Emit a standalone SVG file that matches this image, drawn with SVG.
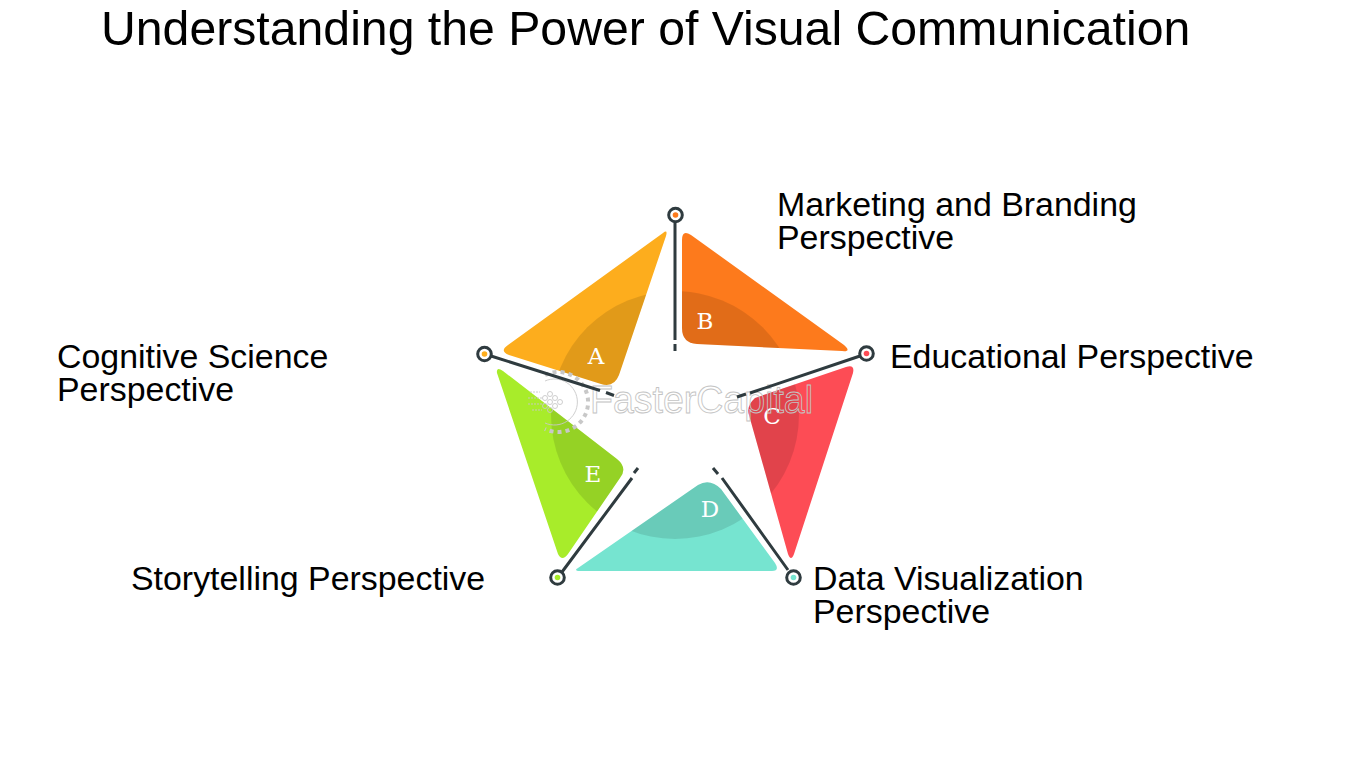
<svg xmlns="http://www.w3.org/2000/svg" width="1350" height="759" viewBox="0 0 1350 759">
<style>
.t{font-family:"Liberation Sans",Arial,sans-serif;font-size:33.9px;fill:#000}
.title{font-family:"Liberation Sans",Arial,sans-serif;font-size:48.2px;fill:#000}
.l{font-family:"DejaVu Serif",serif;font-size:23px;fill:#fff;text-anchor:middle}
.c{stroke:#2f3b3f;stroke-width:3;fill:none}
.r{fill:#fff;stroke:#2f3b3f;stroke-width:3}
.dark{fill:#000;opacity:.11}
.wm{font-family:"Liberation Sans",Arial,sans-serif;font-size:39px;fill:none;stroke:#c4c4c4;stroke-width:.9}
</style>
<defs>
<clipPath id="cA"><path id="pA" d="M663 233Q668 229 666 236L619 375Q614 388 601 384L509 355Q499 351 508 345Z"/></clipPath>
<clipPath id="cB"><path id="pB" d="M682 240Q682 229 691 235L844 345Q852 352 842 351L697 344Q682 343 682 328Z"/></clipPath>
<clipPath id="cC"><path id="pC" d="M846 367Q855 364 853 373L794 554Q791 562 788 554L749 415Q746 406 755 398Z"/></clipPath>
<clipPath id="cD"><path id="pD" d="M698 485Q710 478 721 489L775 563Q780 571 772 571L578 571Q574 570 578 568Z"/></clipPath>
<clipPath id="cE"><path id="pE" d="M497 373Q496 366 503 371L617 459Q628 468 620 478L568 554Q562 562 558 554Z"/></clipPath>
</defs>
<rect width="1350" height="759" fill="#fff"/>
<text class="title" x="101" y="45">Understanding the Power of Visual Communication</text>
<g id="node-a"><use href="#pA" fill="#fdad1d"/><circle cx="675" cy="415" r="124" class="dark" clip-path="url(#cA)"/><text class="l" x="596" y="364">A</text></g>
<g id="node-b"><use href="#pB" fill="#fd7a1c"/><circle cx="675" cy="415" r="124" class="dark" clip-path="url(#cB)"/><text class="l" x="705" y="329">B</text></g>
<g id="node-c"><use href="#pC" fill="#fd4c55"/><circle cx="675" cy="415" r="124" class="dark" clip-path="url(#cC)"/><text class="l" x="772" y="424">C</text></g>
<g id="node-d"><use href="#pD" fill="#76e4d0"/><circle cx="675" cy="415" r="124" class="dark" clip-path="url(#cD)"/><text class="l" x="710" y="517">D</text></g>
<g id="node-e"><use href="#pE" fill="#a8ec2a"/><circle cx="675" cy="415" r="124" class="dark" clip-path="url(#cE)"/><text class="l" x="593" y="482">E</text></g>
<g id="watermark" fill="none" stroke="#c8c8c8" stroke-width=".9">
<path d="M545 381A23 23 0 1 1 545 423"/>
<path d="M545 375A30 30 0 1 1 545 429" stroke-width="4" stroke-dasharray="4 4"/>
<path d="M528 398h14M528 404h16M530 392h10M532 410h10" stroke-dasharray="2 1"/>
<circle cx="550" cy="402" r="2.500"/><circle cx="545" cy="398" r="2.500"/><circle cx="545" cy="406" r="2.500"/><circle cx="550" cy="394" r="2.500"/><circle cx="550" cy="410" r="2.500"/><circle cx="555" cy="398" r="2.500"/><circle cx="555" cy="406" r="2.500"/><circle cx="560" cy="402" r="2.500"/>
<text class="wm" x="590" y="413" textLength="223" lengthAdjust="spacingAndGlyphs">FasterCapital</text>
</g>
<g id="connectors">
<path class="c" d="M491 356L600 390.500M606 392.500L614 395.500"/>
<path class="c" d="M675 222V340M675 344V351"/>
<path class="c" d="M860 356L750 393M746 394L737 397"/>
<path class="c" d="M788 570L722 478M718 474L713 468"/>
<path class="c" d="M562 572L632 478M634 473L638 468"/>
</g>
<g id="dot-a"><circle class="r" cx="484.500" cy="354" r="6.800"/><circle cx="484.500" cy="354" r="2.800" fill="#fdad1d"/></g>
<g id="dot-b"><circle class="r" cx="675.500" cy="215" r="6.800"/><circle cx="675.500" cy="215" r="2.800" fill="#fd7a1c"/></g>
<g id="dot-c"><circle class="r" cx="866.500" cy="353.500" r="6.800"/><circle cx="866.500" cy="353.500" r="2.800" fill="#fd4c55"/></g>
<g id="dot-d"><circle class="r" cx="793.500" cy="577.500" r="6.800"/><circle cx="793.500" cy="577.500" r="2.800" fill="#76e4d0"/></g>
<g id="dot-e"><circle class="r" cx="557.500" cy="577.500" r="6.800"/><circle cx="557.500" cy="577.500" r="2.800" fill="#a8ec2a"/></g>
<g id="label-marketing"><text class="t" x="777" y="216">Marketing and Branding</text><text class="t" x="777" y="249">Perspective</text></g>
<g id="label-educational"><text class="t" x="890" y="368">Educational Perspective</text></g>
<g id="label-data"><text class="t" x="813" y="590">Data Visualization</text><text class="t" x="813" y="623">Perspective</text></g>
<g id="label-storytelling"><text class="t" x="131" y="590">Storytelling Perspective</text></g>
<g id="label-cognitive"><text class="t" x="57" y="368">Cognitive Science</text><text class="t" x="57" y="401">Perspective</text></g>
</svg>
